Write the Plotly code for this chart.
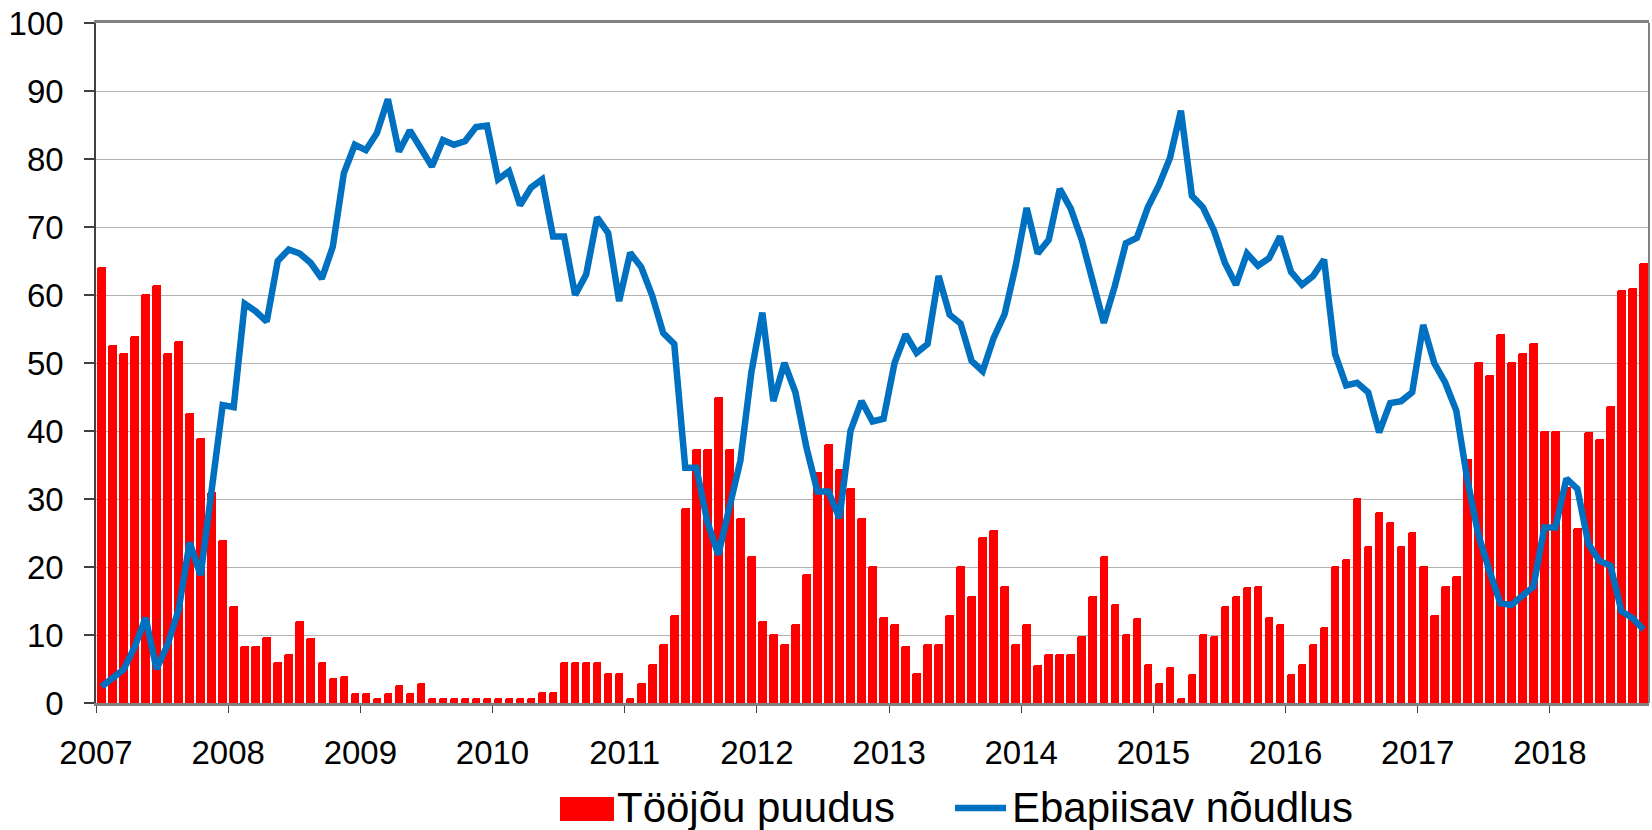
import plotly.graph_objects as go

# ---- data (monthly, Jan 2007 - Sep 2018) ----
years = [str(y) for y in range(2007, 2019)]

labour_shortage = [
    64.1, 52.6, 51.4, 54.0, 60.2, 61.5, 51.5, 53.3, 42.6, 38.9, 31.0, 23.9,   # 2007
    14.2, 8.4, 8.4, 9.7, 6.1, 7.2, 12.0, 9.5, 6.1, 3.7, 3.9, 1.4,             # 2008
    1.4, 0.7, 1.5, 2.6, 1.5, 2.9, 0.7, 0.7, 0.7, 0.7, 0.7, 0.7,               # 2009
    0.7, 0.7, 0.7, 0.7, 1.6, 1.6, 6.0, 6.0, 6.0, 6.0, 4.4, 4.4,               # 2010
    0.7, 3.0, 5.7, 8.7, 13.0, 28.7, 37.3, 37.3, 45.0, 37.3, 27.2, 21.6,       # 2011
    12.1, 10.1, 8.7, 11.6, 18.9, 33.9, 38.1, 34.4, 31.6, 27.2, 20.1, 12.6,    # 2012
    11.6, 8.4, 4.4, 8.7, 8.7, 13.0, 20.1, 15.8, 24.4, 25.5, 17.2, 8.7,        # 2013
    11.6, 5.6, 7.2, 7.2, 7.2, 9.9, 15.8, 21.6, 14.5, 10.1, 12.5, 5.8,         # 2014
    2.9, 5.3, 0.7, 4.3, 10.1, 9.9, 14.2, 15.8, 17.0, 17.2, 12.7, 11.6,        # 2015
    4.3, 5.8, 8.7, 11.2, 20.1, 21.2, 30.1, 23.1, 28.1, 26.6, 23.1, 25.1,      # 2016
    20.1, 13.0, 17.2, 18.7, 35.9, 50.2, 48.3, 54.2, 50.2, 51.5, 53.0, 40.0,   # 2017
    40.0, 31.8, 25.8, 39.8, 38.8, 43.7, 60.8, 61.1, 64.7,                     # 2018
]

insufficient_demand = [
    2.4, 3.8, 4.9, 8.2, 12.5, 5.0, 8.6, 13.7, 23.6, 18.8, 30.8, 43.8,         # 2007
    43.5, 58.7, 57.6, 56.1, 65.0, 66.7, 66.1, 64.7, 62.4, 67.1, 77.9, 82.1,   # 2008
    81.3, 83.8, 88.8, 81.1, 84.2, 81.5, 78.9, 82.8, 82.1, 82.6, 84.7, 84.9,   # 2009
    77.0, 78.2, 73.2, 75.8, 77.0, 68.6, 68.6, 60.0, 63.0, 71.4, 69.1, 59.1,   # 2010
    66.2, 64.1, 59.9, 54.4, 52.8, 34.6, 34.6, 26.7, 21.8, 28.7, 35.6, 48.6,   # 2011
    57.4, 44.4, 50.0, 45.7, 37.6, 31.1, 31.1, 27.2, 40.0, 44.4, 41.4, 41.8,   # 2012
    50.0, 54.2, 51.5, 52.8, 62.8, 57.1, 55.8, 50.3, 48.8, 53.7, 57.2, 64.3,   # 2013
    72.8, 66.1, 68.1, 75.6, 72.7, 68.1, 61.6, 55.9, 61.3, 67.6, 68.4, 72.9,   # 2014
    76.1, 80.1, 87.1, 74.6, 72.9, 69.5, 64.7, 61.5, 66.1, 64.3, 65.4, 68.6,   # 2015
    63.4, 61.5, 62.8, 65.2, 51.3, 46.7, 47.1, 45.7, 39.8, 44.1, 44.4, 45.7,   # 2016
    55.6, 50.0, 47.1, 43.0, 32.9, 24.8, 19.5, 14.7, 14.4, 15.7, 17.1, 25.8,   # 2017
    25.8, 33.0, 31.5, 23.4, 20.9, 20.2, 13.5, 12.5, 10.8,                     # 2018
]

series_names = ["Tööjõu puudus", "Ebapiisav nõudlus"]

# ---- figure ----
W, H = 1652, 830
ML, MR, MT, MB = 96, 3, 23, 127
PW, PH = W - ML - MR, H - MT - MB

def px_x(p):
    return (p - ML) / PW

def px_y(p):
    return (H - MB - p) / PH

months = list(range(len(labour_shortage)))
RED = "#FF0000"
BLUE = "#0070C0"
FONT = "Liberation Sans, Arial, sans-serif"

fig = go.Figure()
fig.add_trace(go.Bar(
    x=months, y=labour_shortage, name=series_names[0],
    marker=dict(color=RED, line=dict(width=0), cornerradius=2),
    width=0.78, showlegend=False,
))
fig.add_trace(go.Scatter(
    x=months, y=insufficient_demand, name=series_names[1], mode="lines",
    line=dict(color=BLUE, width=6.5), showlegend=False,
))

tickvals = [12 * k - 0.5 for k in range(len(years))]

fig.update_layout(
    width=W, height=H,
    margin=dict(l=ML, r=MR, t=MT, b=MB, pad=0),
    paper_bgcolor="white", plot_bgcolor="white",
    font=dict(family=FONT, size=33, color="black"),
    bargap=0,
    xaxis=dict(
        range=[-0.5, len(months) - 0.5],
        tickmode="array", tickvals=tickvals, ticktext=years,
        ticks="outside", ticklen=7, tickwidth=1, tickcolor="#404040",
        ticklabelstandoff=12,
        showline=True, linecolor="#808080", linewidth=2.5, mirror=True,
        showgrid=False, zeroline=False,
        tickfont=dict(size=33, family=FONT, color="black"),
    ),
    yaxis=dict(
        range=[0, 100], dtick=10, tick0=0,
        ticks="outside", ticklen=10, tickwidth=1.5, tickcolor="#404040",
        ticklabelstandoff=14,
        showline=True, linecolor="#404040", linewidth=1.5,
        showgrid=True, gridcolor="#b3b3b3", gridwidth=1,
        zeroline=False,
        tickfont=dict(size=33, family=FONT, color="black"),
    ),
    shapes=[
        # right border of plot area
        dict(type="line", xref="paper", yref="paper", x0=1, x1=1, y0=0, y1=1,
             line=dict(color="#808080", width=2)),
        # legend keys
        dict(type="rect", xref="paper", yref="paper",
             x0=px_x(560), x1=px_x(614), y0=px_y(821), y1=px_y(797),
             fillcolor=RED, line=dict(width=0)),
        dict(type="line", xref="paper", yref="paper",
             x0=px_x(955), x1=px_x(1006), y0=px_y(808), y1=px_y(808),
             line=dict(color=BLUE, width=6.5)),
    ],
    annotations=[
        dict(text=series_names[0], xref="paper", yref="paper",
             x=px_x(615), y=px_y(808), xanchor="left", yanchor="middle",
             showarrow=False, font=dict(size=42, family=FONT, color="black")),
        dict(text=series_names[1], xref="paper", yref="paper",
             x=px_x(1010), y=px_y(808), xanchor="left", yanchor="middle",
             showarrow=False, font=dict(size=42, family=FONT, color="black")),
    ],
)

fig.write_html(
    "out.html",
    config={"displayModeBar": False},
    post_script="document.body.style.margin='0px';document.body.style.overflow='hidden';",
)
